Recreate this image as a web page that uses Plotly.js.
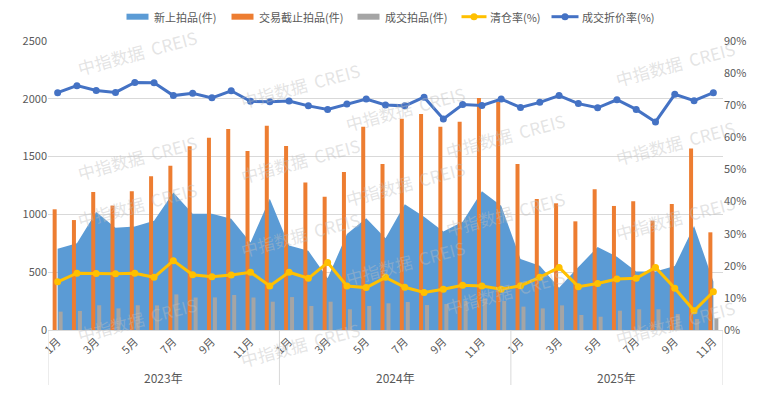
<!DOCTYPE html>
<html>
<head>
<meta charset="utf-8">
<script src="https://cdn.plot.ly/plotly-3.0.1.min.js"></script>
<style>html,body{margin:0;padding:0;background:#fff;}#chart{width:765px;height:393px;}</style>
</head>
<body>
<div id="chart"></div>
<script>
// ---- data ----
const years = ["2023年", "2024年", "2025年"];
const monthsPerYear = [12, 12, 11];
const monthLabels = ["1月","2月","3月","4月","5月","6月","7月","8月","9月","10月","11月","12月"];

const newListings = [ // 新上拍品(件)
  703, 750, 1020, 885, 895, 945, 1190, 1006, 1006, 962, 757, 1135,
  731, 685, 447, 830, 966, 793, 1088, 980, 851, 937, 1200, 1075,
  615, 555, 365, 545, 718, 634, 505, 505, 554, 900, 420
];
const closedListings = [ // 交易截止拍品(件)
  1044, 951, 1194, 1076, 1200, 1330, 1420, 1590, 1664, 1739, 1548, 1767,
  1592, 1277, 1153, 1367, 1759, 1436, 1828, 1868, 1759, 1802, 2007, 1975,
  1436, 1133, 1096, 940, 1217, 1073, 1113, 946, 1090, 1571, 845
];
const soldListings = [ // 成交拍品(件)
  159, 165, 214, 187, 214, 213, 308, 281, 282, 303, 281, 245,
  285, 208, 245, 179, 208, 231, 242, 216, 225, 251, 274, 251,
  202, 187, 213, 130, 115, 167, 179, 179, 138, 95, 101
];
const clearanceRate = [ // 清仓率(%)
  15.0, 17.7, 17.6, 17.5, 17.7, 16.4, 21.6, 17.2, 16.6, 17.1, 18.0, 13.7,
  18.0, 16.1, 21.0, 13.7, 13.2, 16.4, 13.3, 11.7, 12.7, 13.9, 13.7, 12.7,
  13.8, 16.4, 19.5, 13.5, 14.5, 15.9, 16.1, 19.5, 13.0, 6.0, 11.9
];
const discountRate = [ // 成交折价率(%)
  73.9, 76.1, 74.6, 74.0, 77.1, 77.0, 73.0, 73.7, 72.3, 74.5, 71.2, 71.1,
  71.3, 69.8, 68.7, 70.4, 71.9, 70.1, 69.8, 72.5, 65.7, 70.2, 69.9, 71.9,
  69.3, 70.9, 73.0, 70.5, 69.2, 71.7, 68.7, 64.8, 73.4, 71.4, 73.9
];
const seriesNames = ["新上拍品(件)", "交易截止拍品(件)", "成交拍品(件)", "清仓率(%)", "成交折价率(%)"];
const seriesColors = ["#5B9BD5", "#ED7D31", "#A5A5A5", "#FFC000", "#4472C4"];

// ---- build categories ----
const cats = [], tickvals = [], ticktext = [];
const yearCenters = [], yearBounds = [-0.5];
let idx = 0;
years.forEach((y, yi) => {
  const start = idx;
  for (let m = 0; m < monthsPerYear[yi]; m++) {
    const key = y + monthLabels[m];
    cats.push(key);
    if (m % 2 === 0) { tickvals.push(key); ticktext.push(monthLabels[m]); }
    idx++;
  }
  yearCenters.push((start + idx - 1) / 2);
  yearBounds.push(idx - 0.5);
});

const grey = "#595959";
const font = "'Noto Sans CJK SC', 'Microsoft YaHei', sans-serif";

const traces = [
  { type: "scatter", x: cats, y: newListings, name: seriesNames[0], mode: "none",
    fill: "tozeroy", fillcolor: seriesColors[0], yaxis: "y" },
  { type: "bar", x: cats, y: closedListings, name: seriesNames[1], marker: { color: seriesColors[1] }, yaxis: "y2" },
  { type: "bar", x: cats, y: soldListings, name: seriesNames[2], marker: { color: seriesColors[2] }, yaxis: "y2" },
  { type: "scatter", x: cats, y: clearanceRate, name: seriesNames[3], mode: "lines+markers",
    line: { color: seriesColors[3], width: 3 }, marker: { color: seriesColors[3], size: 7 }, yaxis: "y3" },
  { type: "scatter", x: cats, y: discountRate, name: seriesNames[4], mode: "lines+markers",
    line: { color: seriesColors[4], width: 3 }, marker: { color: seriesColors[4], size: 7 }, yaxis: "y3" }
];

const L = 48, R = 42, T = 41, B = 63, W = 765, H = 393;
const pw = W - L - R, ph = H - T - B;
const px2x = p => (p - L) / pw;
const px2y = p => (H - B - p) / ph;

const shapes = yearBounds.map(b => ({
  type: "line", xref: "x", yref: "paper", x0: b, x1: b, y0: 0, y1: px2y(385),
  line: { color: "#d9d9d9", width: 1 }
}));

const annotations = years.map((y, i) => ({
  xref: "x", yref: "paper", x: yearCenters[i], y: px2y(377), text: y, showarrow: false,
  font: { size: 12, color: grey, family: font }, yanchor: "middle"
}));

// ---- custom legend (Excel-like) ----
const legendY = 16.7;
const legendItems = [
  { kind: "rect", x0: 126.5, x1: 148.5, tx: 151.5 },
  { kind: "rect", x0: 231.5, x1: 253.5, tx: 256.5 },
  { kind: "rect", x0: 357.5, x1: 379.5, tx: 382.5 },
  { kind: "line", x0: 461.5, x1: 486.5, tx: 488 },
  { kind: "line", x0: 551.5, x1: 578.5, tx: 580 }
];
legendItems.forEach((it, i) => {
  const c = seriesColors[i];
  if (it.kind === "rect") {
    shapes.push({ type: "rect", xref: "paper", yref: "paper", x0: px2x(it.x0), x1: px2x(it.x1),
      y0: px2y(legendY + 3), y1: px2y(legendY - 3), fillcolor: c, line: { width: 0 } });
  } else {
    shapes.push({ type: "line", xref: "paper", yref: "paper", x0: px2x(it.x0), x1: px2x(it.x1),
      y0: px2y(legendY), y1: px2y(legendY), line: { color: c, width: 3 } });
    const mx = (it.x0 + it.x1) / 2;
    shapes.push({ type: "circle", xref: "paper", yref: "paper", x0: px2x(mx - 3.5), x1: px2x(mx + 3.5),
      y0: px2y(legendY + 3.5), y1: px2y(legendY - 3.5), fillcolor: c, line: { width: 0 } });
  }
  annotations.push({ xref: "paper", yref: "paper", x: px2x(it.tx), y: px2y(legendY), text: seriesNames[i],
    showarrow: false, xanchor: "left", yanchor: "middle", font: { size: 11, color: grey, family: font } });
});

// watermark
const wm = [[72,22],[72,127],[72,235],[72,350],[235,55],[235,160],[235,265],[235,375],
            [405,78],[405,183],[405,293],[570,105],[570,213],[570,322],[740,33],[740,142],[740,248],[740,353]];
wm.forEach(([x, y]) => annotations.push({
  xref: "paper", yref: "paper", x: px2x(x), y: px2y(y), text: "中指数据  CREIS", showarrow: false,
  textangle: -15, font: { size: 17, color: "rgba(190,190,190,0.42)", family: font }
}));

const layout = {
  width: W, height: H,
  margin: { l: L, r: R, t: T, b: B, pad: 0 },
  paper_bgcolor: "#fff", plot_bgcolor: "rgba(0,0,0,0)",
  font: { family: font, color: grey, size: 11 },
  barmode: "group", bargap: 0.38, bargroupgap: 0.33,
  showlegend: false,
  xaxis: { type: "category", categoryorder: "array", categoryarray: cats, range: [-0.5, cats.length - 0.5],
           tickmode: "array", tickvals: tickvals, ticktext: ticktext, tickangle: -45,
           showline: true, linecolor: "#d9d9d9", linewidth: 1, showgrid: false, ticks: "",
           tickfont: { size: 11, color: grey }, automargin: false },
  yaxis: { range: [0, 2500], dtick: 500, gridcolor: "#d9d9d9", zeroline: false, showline: false, ticks: "",
           tickfont: { size: 11, color: grey }, automargin: false },
  yaxis2: { overlaying: "y", range: [0, 2500], visible: false },
  yaxis3: { overlaying: "y", side: "right", range: [0, 90], dtick: 10, ticksuffix: "%", showgrid: false,
            zeroline: false, showline: false, ticks: "", tickfont: { size: 11, color: grey }, automargin: false },
  shapes: shapes,
  annotations: annotations
};

Plotly.newPlot("chart", traces, layout, { displayModeBar: false, staticPlot: true });
</script>
</body>
</html>
